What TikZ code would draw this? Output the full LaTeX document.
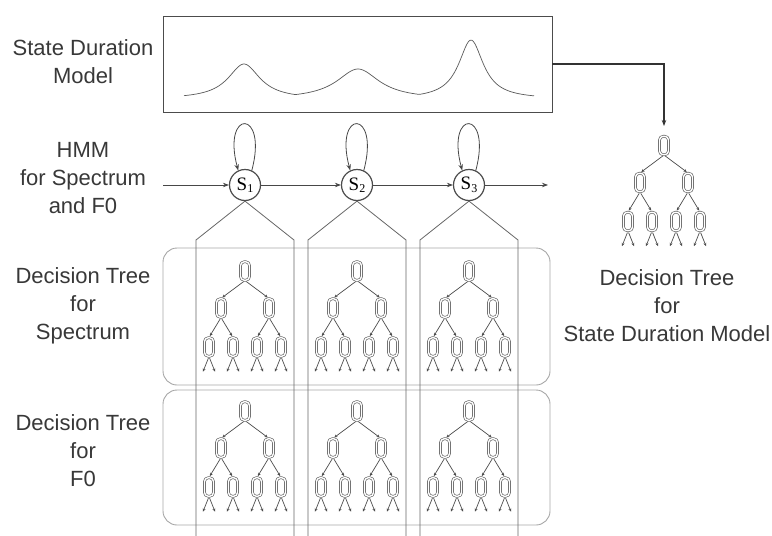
\documentclass[tikz,border=0pt]{standalone}
\usepackage{fontspec}
\setmainfont{Liberation Sans}
\newfontfamily\serifS{Liberation Serif}
\usetikzlibrary{arrows.meta,calc}
\tikzset{
  line/.style={draw=black!72, line width=0.8pt},
  arr/.style={-{Stealth[length=6pt,width=4.5pt]}},
  lbl/.style={align=center, font=\fontsize{22}{28}\selectfont, text=black!78, inner sep=0pt},
  state/.style={circle, draw=black!70, line width=1.2pt, minimum size=31pt, inner sep=0pt, fill=white},
  dn/.style={draw=black!62, double=white, double distance=1.4pt, line width=0.65pt, rounded corners=3.8pt, minimum width=9pt, minimum height=18.5pt, inner sep=0pt},
  te/.style={draw=black!70, line width=0.7pt, shorten <=1.6pt, shorten >=1.6pt, -{Stealth[length=3.2pt,width=3pt]}},
  rbox/.style={draw=black!35, line width=0.9pt, rounded corners=14pt, inner sep=0pt},
  sbox/.style={draw=black!70, line width=0.9pt, inner sep=0pt}
}
\newcommand\dtree[3]{%
  \begin{scope}[shift={(#2,#3)}]
    \node[dn] (#1r) at (0,0) {};
    \node[dn] (#1a) at (-24,37) {};
    \node[dn] (#1b) at (24,37) {};
    \node[dn] (#1aa) at (-36,76) {};
    \node[dn] (#1ab) at (-12,76) {};
    \node[dn] (#1ba) at (12,76) {};
    \node[dn] (#1bb) at (36,76) {};
  \end{scope}
  \draw[te] (#1r.south) -- (#1a.north);
  \draw[te] (#1r.south) -- (#1b.north);
  \draw[te] (#1a.south) -- (#1aa.north);
  \draw[te] (#1a.south) -- (#1ab.north);
  \draw[te] (#1b.south) -- (#1ba.north);
  \draw[te] (#1b.south) -- (#1bb.north);
  \foreach \n in {aa,ab,ba,bb}{%
    \coordinate (#1\n L) at ($(#1\n.south)+(-6,15)$);
    \coordinate (#1\n R) at ($(#1\n.south)+(6,15)$);
    \draw[te, shorten >=0pt] (#1\n.south) -- (#1\n L);
    \draw[te, shorten >=0pt] (#1\n.south) -- (#1\n R);
  }%
}
\newcommand\slab[1]{{\fontsize{19}{19}\selectfont S}\raisebox{-2.5pt}{\fontsize{12}{12}\selectfont #1}}
\begin{document}
\begin{tikzpicture}[x=1pt,y=-1pt]
\useasboundingbox (0,0) rectangle (772,536);

% left labels
\node[lbl] (lsdm) at (83,62) {State Duration\\Model};
\node[lbl] (lhmm) at (83,178) {HMM\\for Spectrum\\and F0};
\node[lbl] (lsp) at (83,306) {Decision Tree\\for\\Spectrum};
\node[lbl] (lf0) at (83,451) {Decision Tree\\for\\F0};
\node[lbl] (lrt) at (667,306) {Decision Tree\\for\\State Duration Model};

% state duration model box
\node[sbox, minimum width=389pt, minimum height=96pt] (sdm) at (357.5,64) {};
\draw[black!65, line width=0.7pt] plot[domain=184:534, samples=220]
  (\x, {99 - max(35/(1+((\x-244)/19.5)^2), 30/(1+((\x-358)/26)^2), 59/(1+((\x-471)/15)^2))});

% decision tree boxes
\node[rbox, minimum width=387pt, minimum height=137pt] (spbox) at (356.5,316.5) {};
\node[rbox, minimum width=387pt, minimum height=135pt] (f0box) at (356.5,457.5) {};

% states
\node[state] (s1) at (245,185) {\serifS\slab{1}};
\node[state] (s2) at (357,185) {\serifS\slab{2}};
\node[state] (s3) at (469,185) {\serifS\slab{3}};
\coordinate (hin) at (163,185);
\coordinate (hout) at (548,185);
\draw[line,arr] (hin) -- (s1);
\draw[line,arr] (s1) -- (s2);
\draw[line,arr] (s2) -- (s3);
\draw[line,arr] (s3) -- (hout);
\foreach \s in {s1,s2,s3}{
  \draw[line,arr] (\s.65) .. controls +(-75:64) and +(-105:64) .. (\s.115);
}

% column lines
\foreach \s/\xl/\xr in {s1/196/294, s2/308/406, s3/420/518}{
  \coordinate (\s lt) at (\xl,240);
  \coordinate (\s lb) at (\xl,536);
  \coordinate (\s rt) at (\xr,240);
  \coordinate (\s rb) at (\xr,536);
  \draw[line, draw=black!60] (\s.south) -- (\s lt) -- (\s lb);
  \draw[line, draw=black!60] (\s.south) -- (\s rt) -- (\s rb);
}

% trees
\dtree{ta}{245}{271}
\dtree{tb}{357}{271}
\dtree{tc}{469}{271}
\dtree{fa}{245}{411}
\dtree{fb}{357}{411}
\dtree{fc}{469}{411}
\dtree{rt}{664}{145.5}

% arrow to duration tree
\coordinate (rtip) at (664,126);
\draw[draw=black!80, line width=1.1pt, arr] (sdm.east) -| (rtip);
\end{tikzpicture}
\end{document}
